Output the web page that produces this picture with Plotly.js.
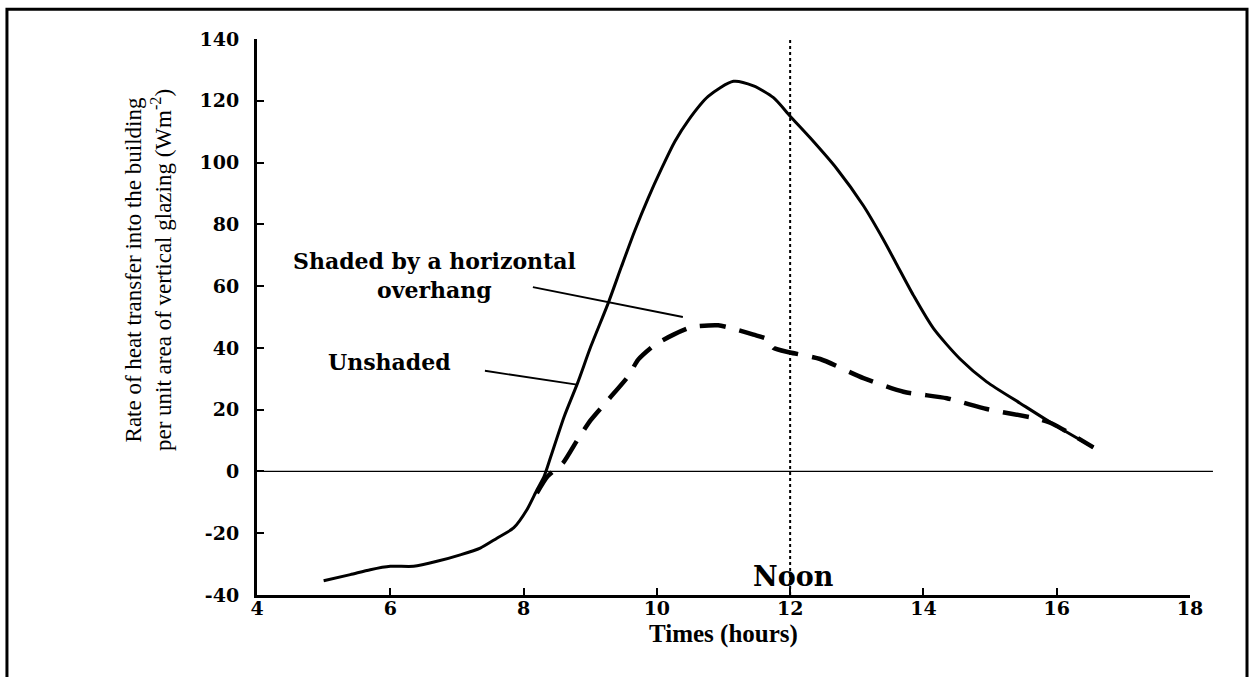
<!DOCTYPE html>
<html>
<head>
<meta charset="utf-8">
<script src="https://cdn.plot.ly/plotly-3.0.1.min.js"></script>
<style>
html,body{margin:0;padding:0;background:#fff;}
#chart{width:1254px;height:677px;}
</style>
</head>
<body>
<div id="chart"></div>
<script>
// Unshaded glazing (solid line)
const unshadedHours = [5.0, 5.4, 5.7, 6.0, 6.35, 6.7, 7.05, 7.35, 7.6, 7.85, 8.05, 8.2, 8.31, 8.41, 8.61, 8.81, 9.01, 9.27, 9.47, 9.67, 9.87, 10.07, 10.27, 10.47, 10.77, 11.15, 11.45, 11.75, 12.0, 12.3, 12.7, 13.1, 13.4, 13.6, 13.85, 14.15, 14.55, 14.95, 15.45, 15.95, 16.55];
const unshadedRate  = [-35.4, -33.4, -31.8, -30.7, -30.7, -29.1, -27.0, -24.8, -21.6, -18.3, -12.4, -6.0, -1.5, 4.9, 17.8, 28.6, 40.5, 54.5, 66.4, 78.0, 88.5, 98.0, 106.8, 113.6, 121.4, 126.3, 124.8, 121.0, 115.0, 108.0, 98.0, 86.0, 75.0, 67.0, 57.0, 46.3, 36.4, 29.0, 22.1, 15.3, 7.8];

// Shaded by a horizontal overhang (dashed line)
const shadedHours = [8.2, 8.36, 8.59, 8.81, 9.01, 9.27, 9.57, 9.72, 9.97, 10.25, 10.52, 10.92, 11.17, 11.45, 11.68, 11.75, 12.0, 12.45, 13.1, 13.7, 14.35, 14.95, 15.7, 15.95, 16.55];
const shadedRate  = [-7.0, -1.6, 2.7, 10.3, 16.7, 23.2, 30.8, 36.2, 41.0, 44.3, 46.7, 47.3, 46.1, 44.3, 42.6, 40.0, 38.5, 36.4, 30.2, 25.8, 23.7, 20.2, 17.1, 15.3, 7.8];

// Axis ticks
const xTicks = [4, 6, 8, 10, 12, 14, 16, 18];
const yTicks = [-40, -20, 0, 20, 40, 60, 80, 100, 120, 140];

// Labels and pointer lines (data coordinates)
const noonHour = 12;
const labelShaded = {text: "Shaded by a horizontal<br>overhang", x: 6.67, y: 63.5};
const pointerShaded = {x0: 8.14, y0: 59.7, x1: 10.39, y1: 50.0};
const labelUnshaded = {text: "Unshaded", x: 5.99, y: 35.5};
const pointerUnshaded = {x0: 7.42, y0: 32.6, x1: 8.8, y1: 28.1};
const xTitleText = "Times (hours)";
const yTitleText = "Rate of heat transfer into the building<br>per unit area of vertical glazing (Wm<sup>-2</sup>)";

const tickFont = {family: "DejaVu Serif", size: 19, color: "#000", weight: "bold"};
const annFont = {family: "DejaVu Serif", size: 22, color: "#000", weight: "bold"};

const traces = [
  {x: unshadedHours, y: unshadedRate, type: "scatter", mode: "lines", name: "Unshaded",
   line: {color: "#000", width: 3, shape: "spline", smoothing: 0.7}},
  {x: shadedHours, y: shadedRate, type: "scatter", mode: "lines", name: "Shaded by a horizontal overhang",
   line: {color: "#000", width: 4.5, dash: "26px,14px", shape: "spline", smoothing: 0.6}}
];

const layout = {
  width: 1254, height: 677,
  margin: {l: 257, r: 64, t: 39, b: 82},
  paper_bgcolor: "#fff", plot_bgcolor: "#fff",
  showlegend: false,
  xaxis: {
    range: [4, 18], tickvals: xTicks, ticktext: xTicks.map(String),
    showgrid: false, zeroline: false,
    showline: true, linecolor: "#000", linewidth: 3,
    ticks: "inside", ticklen: 7, tickwidth: 2, tickcolor: "#000",
    tickfont: tickFont, ticklabelstandoff: -6
  },
  yaxis: {
    range: [-40, 140], tickvals: yTicks, ticktext: yTicks.map(String),
    showgrid: false, zeroline: false,
    showline: true, linecolor: "#000", linewidth: 3,
    ticks: "inside", ticklen: 7, tickwidth: 2, tickcolor: "#000",
    tickfont: tickFont, ticklabelstandoff: 11
  },
  shapes: [
    // outer frame
    {type: "rect", xref: "paper", yref: "paper", x0: -0.2680, x1: 1.0611, y0: -0.16, y1: 1.0535,
     line: {color: "#000", width: 3}},
    // zero line (extends past the x-axis end)
    {type: "line", xref: "paper", yref: "paper", x0: 0, x1: 1.0246, y0: 40 / 180, y1: 40 / 180, line: {color: "#000", width: 1.3}},
    // noon dotted line
    {type: "line", xref: "x", yref: "y", x0: noonHour, x1: noonHour, y0: -40, y1: 140.5, line: {color: "#000", width: 2, dash: "dot"}},
    // pointers
    {type: "line", xref: "x", yref: "y", x0: pointerShaded.x0, y0: pointerShaded.y0, x1: pointerShaded.x1, y1: pointerShaded.y1, line: {color: "#000", width: 1.8}},
    {type: "line", xref: "x", yref: "y", x0: pointerUnshaded.x0, y0: pointerUnshaded.y0, x1: pointerUnshaded.x1, y1: pointerUnshaded.y1, line: {color: "#000", width: 1.8}}
  ],
  annotations: [
    // y-axis title
    {x: -0.1168, y: 0.5845, xref: "paper", yref: "paper", xanchor: "center", yanchor: "middle",
     text: yTitleText, textangle: -90, showarrow: false,
     font: {family: "Liberation Serif", size: 23, color: "#000"}, align: "center"},
    // x-axis title
    {x: 0.5, y: -0.0435, xref: "paper", yref: "paper", xanchor: "center", yanchor: "top", borderpad: 0,
     text: xTitleText, showarrow: false,
     font: {family: "Liberation Serif", size: 25, color: "#000", weight: "bold"}},
    {x: labelShaded.x, y: labelShaded.y, xref: "x", yref: "y", text: labelShaded.text, showarrow: false, font: annFont, align: "center"},
    {x: labelUnshaded.x, y: labelUnshaded.y, xref: "x", yref: "y", text: labelUnshaded.text, showarrow: false, font: annFont},
    {x: 12.05, y: -34, xref: "x", yref: "y", text: "Noon", showarrow: false, font: {family: "DejaVu Serif", size: 27, color: "#000", weight: "bold"}}
  ]
};

Plotly.newPlot("chart", traces, layout, {displayModeBar: false, staticPlot: true});
</script>
</body>
</html>
